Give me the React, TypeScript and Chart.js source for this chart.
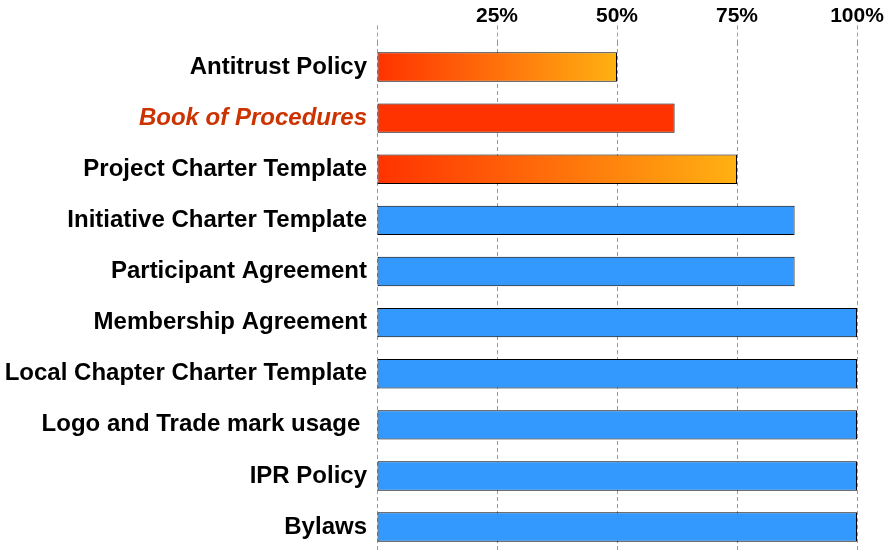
import React, { useEffect, useRef } from "react";
import { Chart, registerables } from "chart.js";

Chart.register(...registerables);

const categories = [
  "Antitrust Policy",
  "Book of Procedures",
  "Project Charter Template",
  "Initiative Charter Template",
  "Participant Agreement",
  "Membership Agreement",
  "Local Chapter Charter Template",
  "Logo and Trade mark usage ",
  "IPR Policy",
  "Bylaws",
];
const completion = [50, 62, 75, 87, 87, 100, 100, 100, 100, 100];
const tickValues = [0, 25, 50, 75, 100];

const W = 891;
const H = 577;

export default function App() {
  const ref = useRef<HTMLCanvasElement | null>(null);

  useEffect(() => {
    const canvas = ref.current;
    if (!canvas) return;

    const barFill = (ctx: any) => {
      const i = ctx.dataIndex;
      if (i === 1) return "#ff3300";
      if (i === 0 || i === 2) {
        const chart = ctx.chart;
        const xs = chart.scales && chart.scales.x;
        if (!xs || !chart.chartArea) return "#ff6600";
        const x0 = xs.getPixelForValue(0);
        const x1 = xs.getPixelForValue(completion[i]);
        if (!isFinite(x0) || !isFinite(x1) || x1 <= x0) return "#ff6600";
        const g = chart.ctx.createLinearGradient(x0, 0, x1, 0);
        g.addColorStop(0, "#ff3300");
        g.addColorStop(0.45, "#ff6a0a");
        g.addColorStop(1, "#ffb112");
        return g;
      }
      return "#3399ff";
    };

    const chart = new Chart(canvas, {
      type: "bar",
      data: {
        labels: categories,
        datasets: [
          {
            data: completion,
            backgroundColor: barFill as any,
            borderColor: "#000000",
            borderWidth: 1,
            borderSkipped: false,
            barPercentage: 0.575,
            categoryPercentage: 1,
          },
        ],
      },
      options: {
        indexAxis: "y",
        responsive: false,
        animation: false,
        layout: { padding: { left: 0, right: 34, top: 0, bottom: 0 } },
        plugins: {
          legend: { display: false },
          tooltip: { enabled: false },
        },
        scales: {
          x: {
            position: "top",
            min: 0,
            max: 100,
            afterFit: (s: any) => {
              s.height = 41.5;
            },
            afterBuildTicks: (s: any) => {
              s.ticks = tickValues.map((v) => ({ value: v }));
            },
            border: { display: false, dash: [4, 3] },
            grid: {
              display: true,
              color: "#9a9a9a",
              lineWidth: 1,
              drawTicks: true,
              tickLength: 16,
              tickColor: "#9a9a9a",
              tickBorderDash: [4, 3],
            },
            ticks: {
              padding: -3,
              color: "#000000",
              font: { family: "'Liberation Sans', Arial, sans-serif", size: 21, weight: "bold" },
              callback: (v: any) => (Number(v) === 0 ? "" : v + "%"),
            },
          },
          y: {
            afterFit: (s: any) => {
              s.width = 377;
            },
            border: { display: false },
            grid: { display: false, drawTicks: false },
            ticks: {
              padding: 10,
              autoSkip: false,
              color: ((c: any) => (c.index === 1 ? "#cc3300" : "#000000")) as any,
              font: ((c: any) => ({
                family: "'Liberation Sans', Arial, sans-serif",
                size: 24,
                weight: "bold",
                style: c.index === 1 ? "italic" : "normal",
              })) as any,
            },
          },
        },
      },
    });

    return () => chart.destroy();
  }, []);

  return (
    <div style={{ position: "fixed", left: 0, top: 0, width: W, height: H, background: "#ffffff" }}>
      <canvas ref={ref} width={W} height={H} style={{ display: "block" }} />
    </div>
  );
}
